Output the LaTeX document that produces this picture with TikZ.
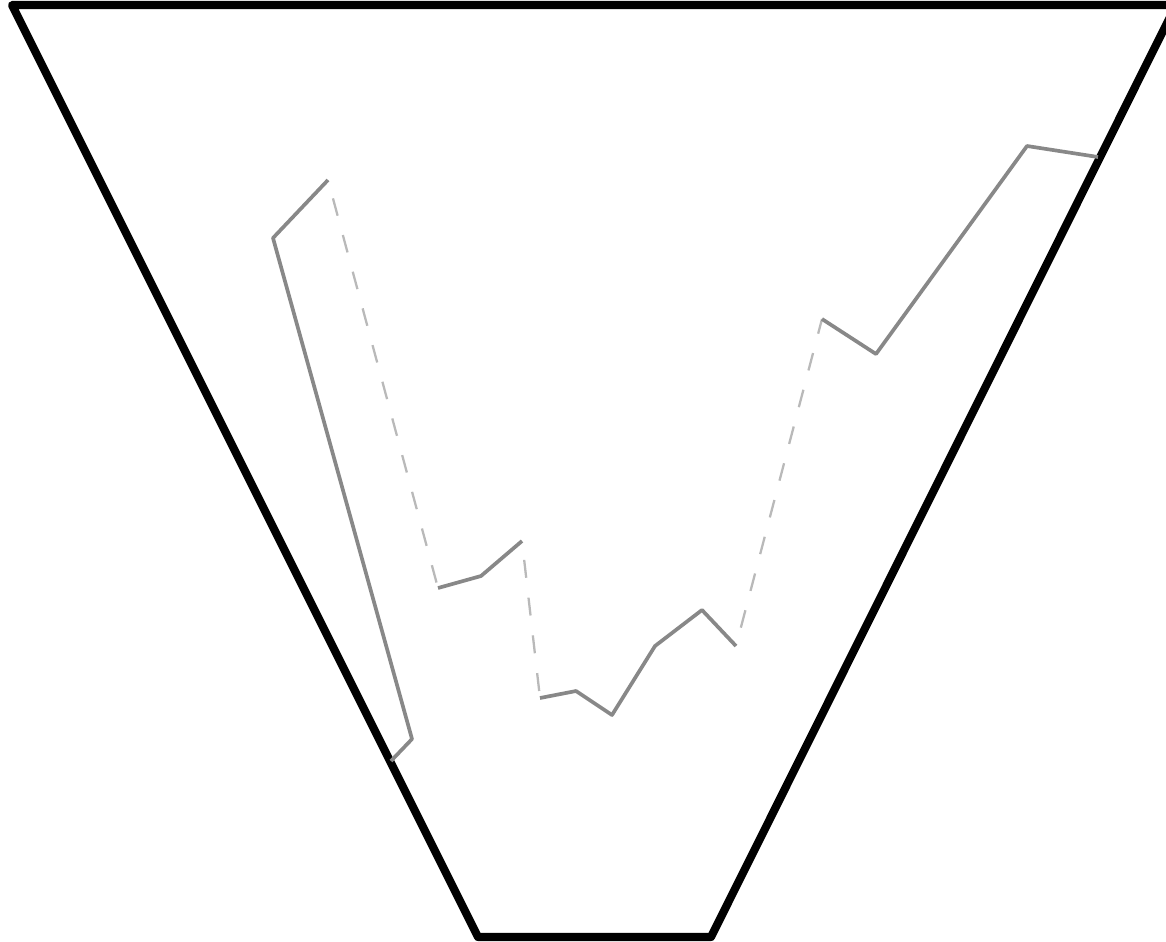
\documentclass[tikz,border=0pt]{standalone}
\usepackage{tikz}
\definecolor{pathgray}{RGB}{136,136,136}
\definecolor{jumpgray}{RGB}{185,185,185}
\tikzset{
  funnel/.style={draw=black, line width=4.6pt, line join=round},
  trace/.style={draw=pathgray, line width=2.1pt, line join=round},
  jump/.style={draw=jumpgray, line width=1.3pt, dash pattern=on 0.36cm off 0.40cm, dash phase=0.38cm}
}

\begin{document}
\begin{tikzpicture}[x=0.02cm,y=-0.02cm]
    \useasboundingbox (0,0) rectangle (1166,941);
    % funnel outline
    \coordinate (tl) at (12,5);
    \coordinate (tr) at (1176,5);
    \coordinate (br) at (711,937);
    \coordinate (bl) at (478,937);
    \draw[funnel] (tl) -- (tr) -- (br) -- (bl) -- cycle;

    % first run
    \coordinate (a0) at (391,761);
    \coordinate (a1) at (412,739);
    \coordinate (a2) at (273,238);
    \coordinate (a3) at (328,180);
    % second run
    \coordinate (b0) at (438,588);
    \coordinate (b1) at (481,576);
    \coordinate (b2) at (522,541);
    % third run
    \coordinate (c0) at (540,698);
    \coordinate (c1) at (576,691);
    \coordinate (c2) at (612,715);
    \coordinate (c3) at (655,646);
    \coordinate (c4) at (702,610);
    \coordinate (c5) at (736,646);
    % fourth run
    \coordinate (d0) at (822,319);
    \coordinate (d1) at (876,354);
    \coordinate (d2) at (1027,146);
    \coordinate (d3) at (1098,157);

    \draw[jump] (a3) -- (b0);
    \draw[jump] (b2) -- (c0);
    \draw[jump] (c5) -- (d0);

    \draw[trace] (a0) -- (a1) -- (a2) -- (a3);
    \draw[trace] (b0) -- (b1) -- (b2);
    \draw[trace] (c0) -- (c1) -- (c2) -- (c3) -- (c4) -- (c5);
    \draw[trace] (d0) -- (d1) -- (d2) -- (d3);
  \end{tikzpicture}
\end{document}
